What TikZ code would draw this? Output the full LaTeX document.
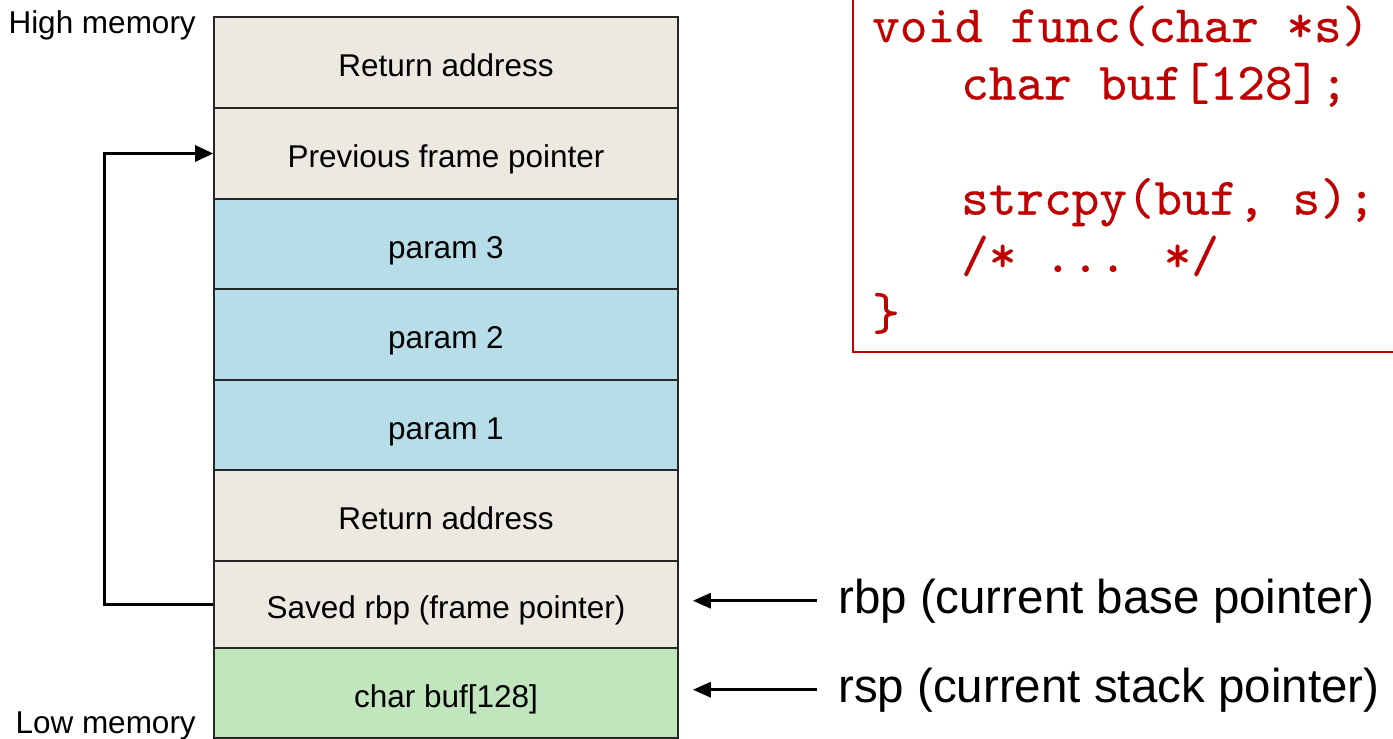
\documentclass[tikz,border=0pt]{standalone}
\usepackage{fontspec}
\setmainfont{Liberation Sans}
\newfontfamily\codefont{lmmono10-regular}[Extension=.otf, FakeBold=0.35]
\usetikzlibrary{arrows.meta}

\definecolor{framebg}{RGB}{236,233,224}
\definecolor{parambg}{RGB}{183,221,232}
\definecolor{bufbg}{RGB}{193,229,188}
\definecolor{codered}{RGB}{192,0,0}

\tikzset{
  cell/.style={draw=black!85, line width=1.6pt, minimum width=464pt, inner sep=0pt,
    text height=28pt, text depth=0pt, font=\fontsize{31.5}{38}\selectfont},
  sidelabel/.style={inner sep=0pt, font=\fontsize{31.5}{38}\selectfont},
  reglabel/.style={inner sep=0pt, anchor=base west, font=\fontsize{47.5}{56}\selectfont},
  link/.style={line width=3pt, -{Triangle[length=18pt,width=16pt]}},
  ptr/.style={line width=3pt, -{Triangle[length=18pt,width=15pt]}},
  codeline/.style={inner sep=0pt, anchor=base west, text=codered,
    font=\codefont\fontsize{52.6}{60}\selectfont},
  codeframe/.style={draw=codered, line width=2pt}
}

\begin{document}
\begin{tikzpicture}[x=1pt, y=-1pt]
  \clip (0,0) rectangle (1393,739);
  \fill[white] (0,0) rectangle (1393,739);

  % stack frame, high addresses on top
  \node[cell, fill=framebg, minimum height=91pt] (ret1)  at (446,62.5)  {Return address};
  \node[cell, fill=framebg, minimum height=91pt] (prev)  at (446,153.5) {Previous frame pointer};
  \node[cell, fill=parambg, minimum height=90pt] (p3)    at (446,244)   {param 3};
  \node[cell, fill=parambg, minimum height=91pt] (p2)    at (446,334.5) {param 2};
  \node[cell, fill=parambg, minimum height=90pt] (p1)    at (446,425)   {param 1};
  \node[cell, fill=framebg, minimum height=91pt] (ret2)  at (446,515.5) {Return address};
  \node[cell, fill=framebg, minimum height=87pt] (saved) at (446,604.5) {Saved rbp (frame pointer)};
  \node[cell, fill=bufbg,   minimum height=90pt] (buf)   at (446,693)   {char buf[128]};

  % memory direction labels
  \node[sidelabel, anchor=base east] (high) at (196,33)  {High memory};
  \node[sidelabel, anchor=base east] (low)  at (196,733) {Low memory};

  % saved frame pointer links back to the previous frame
  \draw[link] (saved.west) -- ++(-109,0) |- (prev.west);

  % register labels and their arrows
  \node[reglabel] (rbp) at (838,613) {rbp (current base pointer)};
  \node[reglabel] (rsp) at (838,702) {rsp (current stack pointer)};
  \draw[ptr, shorten <=21pt, shorten >=14pt] (rbp.west) -- (rbp.west -| saved.east);
  \draw[ptr, shorten <=21pt, shorten >=14pt] (rsp.west) -- (rsp.west -| buf.east);

  % source code listing
  \draw[codeframe] (853,-10) rectangle (1420,352);
  \node[codeline] (c1) at (872,42)    {void func(char *s)};
  \node[codeline] (c2) at (961,99.5)  {char buf[128];};
  \node[codeline] (c4) at (961,214.5) {strcpy(buf, s);};
  \node[codeline] (c5) at (961,272)   {/* ... */};
  \node[codeline] (c6) at (872,329.5) {\}};
\end{tikzpicture}
\end{document}
